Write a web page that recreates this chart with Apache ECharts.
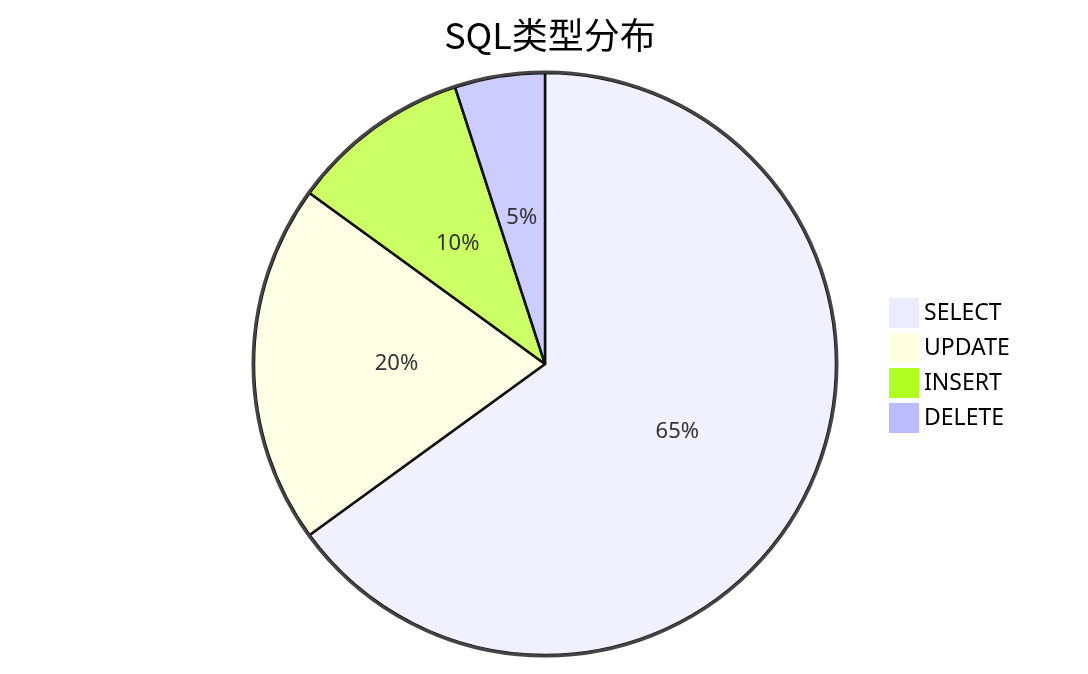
<!DOCTYPE html><html><head><meta charset="utf-8">
<script src="https://cdn.jsdelivr.net/npm/echarts@6/dist/echarts.min.js"></script>
<style>html,body{margin:0;background:#fff}#c{width:1088px;height:674px}</style></head><body><div id="c"></div>
<script>
const categories=["SELECT","UPDATE","INSERT","DELETE"];
const values=[65,20,10,5];
const sliceColors=["#f0f0ff","#ffffe6","#ccff66","#ccccff"];
const legendColors=["#ececff","#ffffde","#b0ff20","#bbbbff"];
const ch=echarts.init(document.getElementById('c'));
ch.setOption({
 animation:false,
 title:{text:"SQL类型分布",left:545,top:12,textAlign:'center',textStyle:{fontSize:36,fontWeight:'normal',color:'#000',fontFamily:'Noto Sans CJK SC'}},
 legend:{orient:'vertical',left:884,top:293,itemWidth:30,itemHeight:30,itemGap:5,icon:'rect',
  textStyle:{fontSize:23,color:'#000',fontFamily:'Noto Sans'},
  data:categories.map((n,i)=>({name:n,itemStyle:{color:legendColors[i],borderWidth:0}}))},
 series:[
 {type:'pie',center:[545,364],radius:[0,292],startAngle:90,silent:true,label:{show:false},
  data:[{value:1,itemStyle:{color:'transparent',borderColor:'#444',borderWidth:3}}],legendHoverLink:false,tooltip:{show:false},z:3,name:'outline'},
 {type:'pie',center:[545,364],radius:[0,291],startAngle:90,clockwise:true,
  label:{position:'inside',formatter:'{d}%',fontSize:22,color:'#333',fontFamily:'Noto Sans'},
  itemStyle:{borderColor:'#111',borderWidth:2.5},
  data:categories.map((n,i)=>({name:n,value:values[i],itemStyle:{color:sliceColors[i]}}))}
 ]
});
</script></body></html>
